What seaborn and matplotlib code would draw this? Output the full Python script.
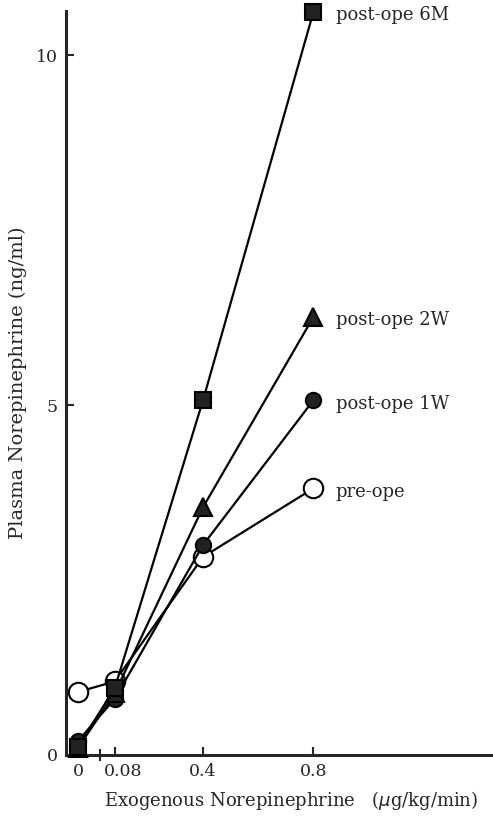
import numpy as np
import pandas as pd
import matplotlib
matplotlib.use("Agg")
import matplotlib.pyplot as plt
import matplotlib.transforms as mtransforms
import seaborn as sns

# Data
dose = [0, 0.08, 0.4, 0.8]
pre_ope = [0.9, 1.05, 2.83, 3.81]
post_1w = [0.2, 0.8, 3.0, 5.07]
post_2w = [0.1, 0.88, 3.54, 6.26]
post_6m = [0.12, 0.95, 5.07, 10.62]
series_names = ["pre-ope", "post-ope 1W", "post-ope 2W", "post-ope 6M"]
x_ticks = [0, 0.08, 0.4, 0.8]
x_ticklabels = ["0", "0.08", "0.4", "0.8"]
y_ticks = [0, 5, 10]

df = pd.DataFrame({
    "dose": dose * 4,
    "value": pre_ope + post_1w + post_2w + post_6m,
    "group": sum([[n] * len(dose) for n in series_names], []),
})

sns.set_style("ticks")
plt.rcParams["font.family"] = ["DejaVu Serif", "DejaVu Sans"]

# broken axis: 0 is squeezed next to 0.08
Z = -0.053


def fwd(x):
    x = np.asarray(x, dtype=float)
    return np.where(x < 0.08, Z + x * (0.08 - Z) / 0.08, x)


def inv(y):
    y = np.asarray(y, dtype=float)
    return np.where(y < 0.08, (y - Z) * 0.08 / (0.08 - Z), y)


fig = plt.figure(figsize=(4.93, 8.16), dpi=100)
ax = fig.add_axes([0.134, 0.0748, 0.866, 0.9117])
ax.set_xscale("function", functions=(fwd, inv))

styles = {
    "pre-ope": dict(marker="o", markersize=14, markerfacecolor="white"),
    "post-ope 1W": dict(marker="o", markersize=11, markerfacecolor="#222222"),
    "post-ope 2W": dict(marker="^", markersize=13, markerfacecolor="#222222"),
    "post-ope 6M": dict(marker="s", markersize=12, markerfacecolor="#222222"),
}

for name in series_names:
    sub = df[df["group"] == name]
    sns.lineplot(data=sub, x="dose", y="value", ax=ax, color="black",
                 linewidth=1.6, markeredgecolor="black", markeredgewidth=1.5,
                 clip_on=False, sort=False, zorder=3, **styles[name])
    last = sub.iloc[-1]
    ax.annotate(name, (last["dose"], last["value"]), xytext=(16, -2.5),
                textcoords="offset points", va="center", ha="left",
                fontsize=13)

ax.set_xlim(inv(-0.096), 1.45)
ax.set_ylim(0, 10.63)
ax.set_xticks(x_ticks)
ax.set_xticklabels(x_ticklabels)
ax.set_yticks(y_ticks)
ax.set_xticks([float(inv(0.026))], minor=True)
ax.tick_params(axis="both", which="major", direction="in", length=6,
               width=1.5, labelsize=12.5, pad=6)
ax.tick_params(axis="x", which="minor", direction="inout", length=8,
               width=1.5)
# the 0.08 label is nudged right to clear the 0
lab = ax.get_xticklabels()[1]
lab.set_transform(lab.get_transform() +
                  mtransforms.ScaledTranslation(8 / 100, 0, fig.dpi_scale_trans))

ax.set_xlabel("Exogenous Norepinephrine   ($\\mu$g/kg/min)", fontsize=13,
              labelpad=6, x=0.527)
ax.set_ylabel("Plasma Norepinephrine (ng/ml)", fontsize=14, labelpad=6)

for s in ["top", "right"]:
    ax.spines[s].set_visible(False)
for s in ["left", "bottom"]:
    ax.spines[s].set_linewidth(2.2)

if ax.get_legend():
    ax.get_legend().remove()

fig.savefig("out.png", dpi=100)
